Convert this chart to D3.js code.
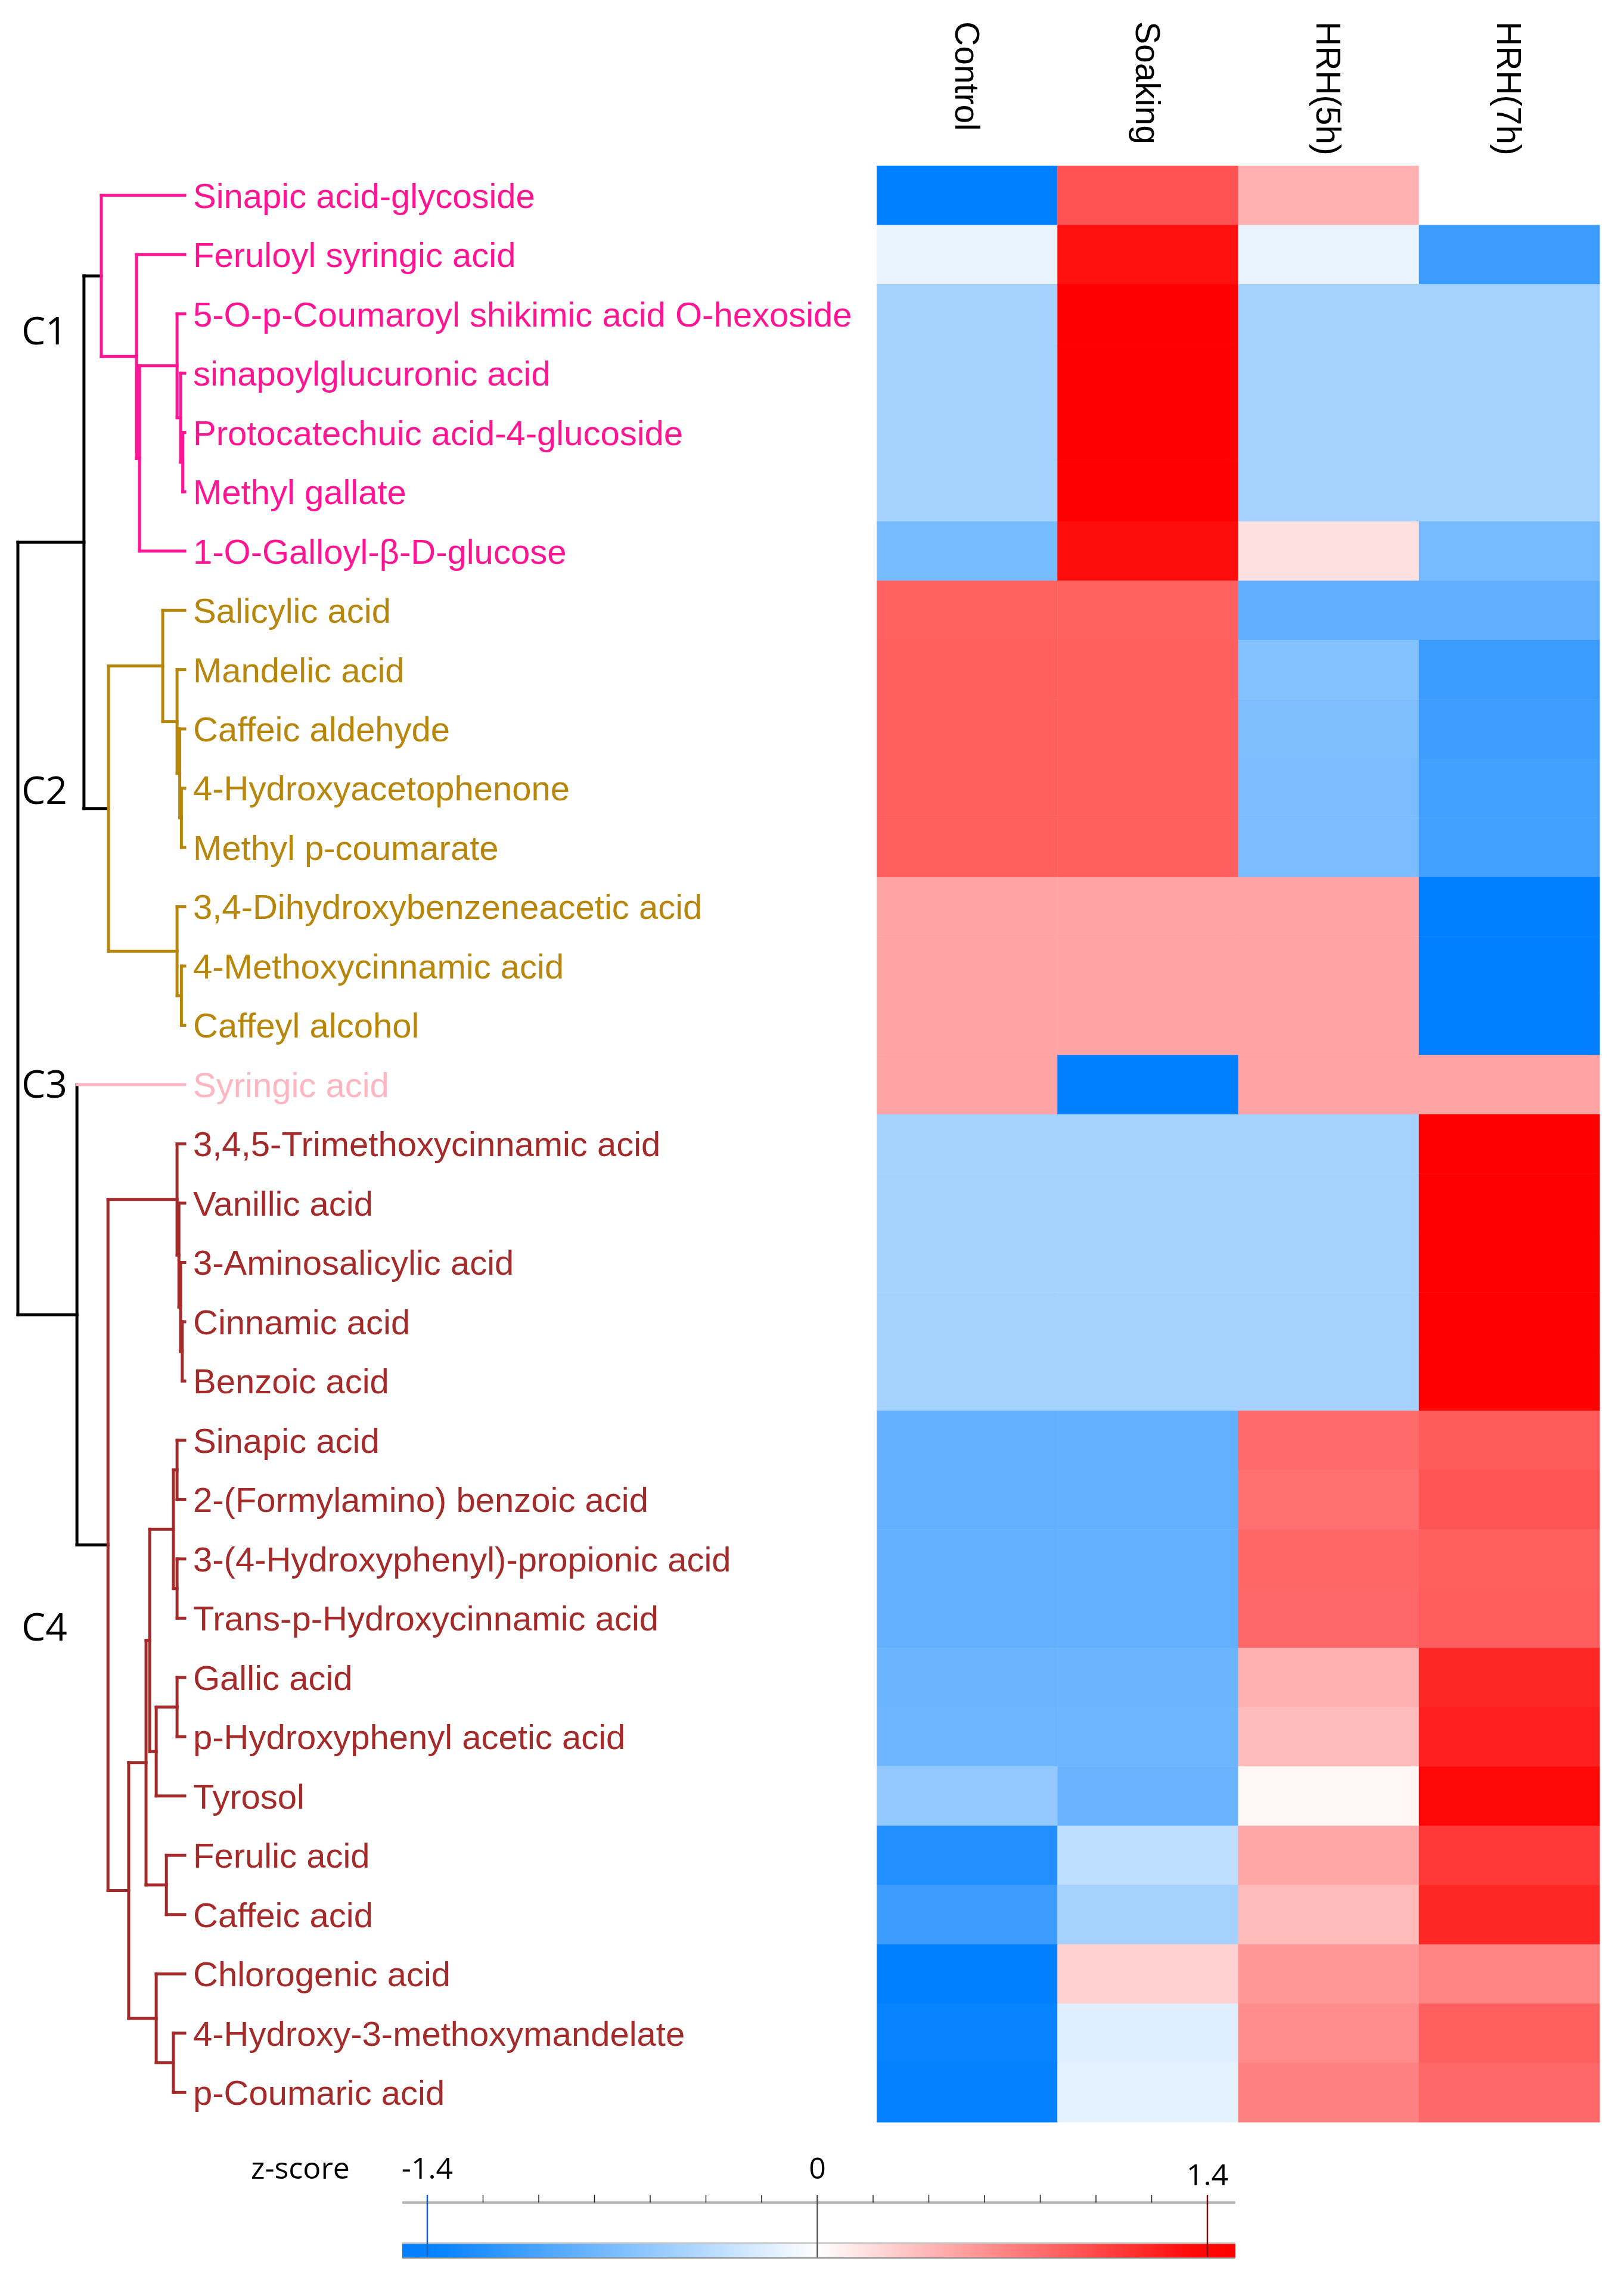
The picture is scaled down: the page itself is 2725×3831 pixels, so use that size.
<!DOCTYPE html>
<html>
<head>
<meta charset="utf-8">
<script src="https://cdn.jsdelivr.net/npm/d3@7"></script>
<style>
  html, body { margin: 0; padding: 0; background: #ffffff; }
  svg { display: block; }
</style>
</head>
<body>
<svg id="chart" width="2725" height="3831"></svg>
<script>
// ---------------- DATA ----------------
const columns = ["Control", "Soaking", "HRH(5h)", "HRH(7h)"];

const compounds = [
  "Sinapic acid-glycoside",
  "Feruloyl syringic acid",
  "5-O-p-Coumaroyl shikimic acid O-hexoside",
  "sinapoylglucuronic acid",
  "Protocatechuic acid-4-glucoside",
  "Methyl gallate",
  "1-O-Galloyl-β-D-glucose",
  "Salicylic acid",
  "Mandelic acid",
  "Caffeic aldehyde",
  "4-Hydroxyacetophenone",
  "Methyl p-coumarate",
  "3,4-Dihydroxybenzeneacetic acid",
  "4-Methoxycinnamic acid",
  "Caffeyl alcohol",
  "Syringic acid",
  "3,4,5-Trimethoxycinnamic acid",
  "Vanillic acid",
  "3-Aminosalicylic acid",
  "Cinnamic acid",
  "Benzoic acid",
  "Sinapic acid",
  "2-(Formylamino) benzoic acid",
  "3-(4-Hydroxyphenyl)-propionic acid",
  "Trans-p-Hydroxycinnamic acid",
  "Gallic acid",
  "p-Hydroxyphenyl acetic acid",
  "Tyrosol",
  "Ferulic acid",
  "Caffeic acid",
  "Chlorogenic acid",
  "4-Hydroxy-3-methoxymandelate",
  "p-Coumaric acid"
];

// z-scores: Control, Soaking, HRH(5h), HRH(7h)
const zscores = [
  [-1.40,  0.95,  0.43,  0.00],
  [-0.12,  1.31, -0.12, -1.07],
  [-0.50,  1.50, -0.50, -0.50],
  [-0.50,  1.50, -0.50, -0.50],
  [-0.50,  1.50, -0.50, -0.50],
  [-0.50,  1.50, -0.50, -0.50],
  [-0.75,  1.33,  0.17, -0.75],
  [ 0.87,  0.87, -0.87, -0.87],
  [ 0.88,  0.88, -0.68, -1.08],
  [ 0.88,  0.88, -0.70, -1.06],
  [ 0.88,  0.88, -0.72, -1.04],
  [ 0.88,  0.88, -0.72, -1.04],
  [ 0.50,  0.50,  0.50, -1.50],
  [ 0.50,  0.50,  0.50, -1.50],
  [ 0.50,  0.50,  0.50, -1.50],
  [ 0.50, -1.50,  0.50,  0.50],
  [-0.50, -0.50, -0.50,  1.50],
  [-0.50, -0.50, -0.50,  1.50],
  [-0.50, -0.50, -0.50,  1.50],
  [-0.50, -0.50, -0.50,  1.50],
  [-0.50, -0.50, -0.50,  1.50],
  [-0.86, -0.86,  0.82,  0.90],
  [-0.86, -0.86,  0.78,  0.94],
  [-0.86, -0.86,  0.84,  0.88],
  [-0.86, -0.86,  0.83,  0.89],
  [-0.81, -0.81,  0.43,  1.19],
  [-0.80, -0.80,  0.37,  1.23],
  [-0.59, -0.82,  0.05,  1.36],
  [-1.22, -0.36,  0.49,  1.09],
  [-1.07, -0.50,  0.38,  1.19],
  [-1.50,  0.25,  0.57,  0.68],
  [-1.36, -0.17,  0.63,  0.88],
  [-1.38, -0.15,  0.70,  0.83]
];

// clusters (consecutive rows)
const clusterNames = ["C1", "C2", "C3", "C4"];
const clusterSizes = [7, 8, 1, 17];

// dendrogram: [mergeHeight, childA, childB]; leaves are row indices
const treeC1 = [5.0, 0, [2.89, 1, [2.71, [0.46, 2, [0.25, 3, [0.12, 4, 5]]], 6]]];
const treeC2 = [4.57, [1.32, 7, [0.46, 8, [0.30, 9, [0.20, 10, 11]]]], [0.46, 12, [0.20, 13, 14]]];
const treeC4 = [4.6,
  [0.46, 16, [0.35, 17, [0.25, 18, [0.15, 19, 20]]]],
  [3.36,
    [2.32,
      [2.10,
        [0.68, [0.46, 21, 22], [0.46, 23, 24]],
        [1.71, [0.46, 25, 26], 27]],
      [1.10, 28, 29]],
    [1.71, 30, [0.68, 31, 32]]]];
const treeSpec = [10.0, [6.04, treeC1, treeC2], [6.46, 15, treeC4]];

// legend ticks
const legendTicks = [-1.4, -1.2, -1.0, -0.8, -0.6, -0.4, -0.2, 0, 0.2, 0.4, 0.6, 0.8, 1.0, 1.2, 1.4];
const legendLabels = [-1.4, 0, 1.4];
const legendLabelText = ["-1.4", "0", "1.4"];

// ---------------- STYLE / LAYOUT ----------------
const clusterColors = ["#ff1493", "#b8860b", "#ffb6c1", "#a52a2a"];
const clusterLabelRow = [3.02, 10.77, 15.72, 24.88]; // baseline, in row units
const heat = { x0: 1471, x1: 2684, y0: 278, y1: 3561 };
const treeX = { leaf: 310, root: 30 };
const labelX = 324;

const svg = d3.select("#chart");
svg.append("rect").attr("width", 2725).attr("height", 3831).attr("fill", "#fff");

const xCol = d3.scaleBand().domain(columns).range([heat.x0, heat.x1]);
const yRow = d3.scaleBand().domain(d3.range(compounds.length)).range([heat.y0, heat.y1]);
const yRowLin = d3.scaleLinear().domain([0, compounds.length]).range([heat.y0, heat.y1]);
const color = d3.scaleLinear().domain([-1.4, 0, 1.4])
  .range(["#007fff", "#ffffff", "#ff0000"]).clamp(true);

// row -> cluster index
const rowCluster = [];
clusterSizes.forEach((n, ci) => { for (let k = 0; k < n; k++) rowCluster.push(ci); });

// ---------------- HEATMAP ----------------
const cells = [];
zscores.forEach((row, r) => row.forEach((v, c) => cells.push({ r, c, v })));
svg.append("g").selectAll("rect").data(cells).join("rect")
  .attr("x", d => xCol(columns[d.c]))
  .attr("y", d => yRow(d.r))
  .attr("width", xCol.bandwidth() + 0.5)
  .attr("height", yRow.bandwidth() + 0.5)
  .attr("fill", d => color(d.v));

// column headers
svg.append("g").selectAll("text").data(columns).join("text")
  .attr("transform", d => `translate(${xCol(d) + xCol.bandwidth() / 2},36) rotate(90)`)
  .attr("dominant-baseline", "central")
  .attr("font-family", "'Liberation Sans', Arial, sans-serif")
  .attr("font-size", 57)
  .attr("fill", "#000")
  .text(d => d);

// row labels
svg.append("g").selectAll("text").data(compounds).join("text")
  .attr("x", labelX)
  .attr("y", (d, i) => yRow(i) + yRow.bandwidth() / 2)
  .attr("dy", "0.36em")
  .attr("font-family", "'Liberation Sans', Arial, sans-serif")
  .attr("font-size", 58)
  .attr("fill", (d, i) => clusterColors[rowCluster[i]])
  .text(d => d);

// ---------------- DENDROGRAM ----------------
function build(n) {
  if (typeof n === "number") return { leaf: n, h: 0 };
  return { h: n[0], children: n.slice(1).map(build) };
}
const root = d3.hierarchy(build(treeSpec));
const hx = d3.scaleLinear().domain([0, treeSpec[0]]).range([treeX.leaf, treeX.root]);

root.eachAfter(d => {
  if (!d.children) {
    d.py = yRow(d.data.leaf) + yRow.bandwidth() / 2;
    d.cset = new Set([rowCluster[d.data.leaf]]);
  } else {
    d.py = d3.mean(d.children, c => c.py);
    d.cset = new Set(d.children.flatMap(c => [...c.cset]));
  }
  d.px = hx(d.data.h);
  d.col = d.cset.size === 1 ? clusterColors[[...d.cset][0]] : "#000000";
});

const segs = [];
root.each(d => {
  if (!d.children) return;
  const ys = d.children.map(c => c.py);
  segs.push({ x1: d.px, x2: d.px, y1: d3.min(ys), y2: d3.max(ys), col: d.col });
  d.children.forEach(c => {
    segs.push({ x1: d.px, x2: c.px, y1: c.py, y2: c.py, col: c.children ? d.col : c.col });
  });
});
segs.sort((a, b) => (a.col === "#000000" ? 0 : 1) - (b.col === "#000000" ? 0 : 1));
svg.append("g").selectAll("line").data(segs).join("line")
  .attr("x1", d => d.x1).attr("x2", d => d.x2)
  .attr("y1", d => d.y1).attr("y2", d => d.y2)
  .attr("stroke", d => d.col)
  .attr("stroke-width", 5)
  .attr("stroke-linecap", "square");

// cluster labels
svg.append("g").selectAll("text").data(clusterNames).join("text")
  .attr("x", 36)
  .attr("y", (d, i) => yRowLin(clusterLabelRow[i]))
  .attr("font-family", "'Open Sans', 'DejaVu Sans', sans-serif")
  .attr("font-size", 64)
  .attr("fill", "#000")
  .text(d => d);

// ---------------- LEGEND ----------------
const lx = d3.scaleLinear().domain([-1.4, 1.4]).range([717, 2026]);
const leg = { axisY: 3696, tickLen: 13, barY0: 3765, barY1: 3788, lo: -1.49, hi: 1.5 };

const defs = svg.append("defs");
const grad = defs.append("linearGradient").attr("id", "zgrad")
  .attr("x1", "0%").attr("x2", "100%").attr("y1", "0%").attr("y2", "0%");
d3.range(0, 1.0001, 0.05).forEach(t => {
  const v = leg.lo + t * (leg.hi - leg.lo);
  grad.append("stop").attr("offset", (t * 100) + "%").attr("stop-color", color(v));
});

const lg = svg.append("g");
lg.append("text")
  .attr("x", 421).attr("y", 3656)
  .attr("font-family", "'Open Sans', 'DejaVu Sans', sans-serif")
  .attr("font-size", 50)
  .attr("fill", "#000")
  .text("z-score");

lg.selectAll("text.tl").data(legendLabels).join("text")
  .attr("class", "tl")
  .attr("x", d => lx(d))
  .attr("y", d => d === 1.4 ? 3667 : 3656)
  .attr("text-anchor", "middle")
  .attr("font-family", "'Open Sans', 'DejaVu Sans', sans-serif")
  .attr("font-size", 50)
  .attr("fill", "#000")
  .text((d, i) => legendLabelText[i]);

// colour bar
lg.append("rect")
  .attr("x", lx(leg.lo)).attr("y", leg.barY0)
  .attr("width", lx(leg.hi) - lx(leg.lo)).attr("height", leg.barY1 - leg.barY0)
  .attr("fill", "url(#zgrad)");
lg.append("line")
  .attr("x1", lx(leg.lo)).attr("x2", lx(leg.hi))
  .attr("y1", leg.barY0 - 1).attr("y2", leg.barY0 - 1)
  .attr("stroke", "#c8c8c8").attr("stroke-width", 3);
lg.append("line")
  .attr("x1", lx(leg.lo)).attr("x2", lx(leg.hi))
  .attr("y1", leg.barY1 + 1).attr("y2", leg.barY1 + 1)
  .attr("stroke", "#8a8a8a").attr("stroke-width", 2);

// axis line
lg.append("line")
  .attr("x1", lx(leg.lo)).attr("x2", lx(leg.hi))
  .attr("y1", leg.axisY).attr("y2", leg.axisY)
  .attr("stroke", "#b4b4b4").attr("stroke-width", 4);
// minor ticks
lg.selectAll("line.tk").data(legendTicks).join("line")
  .attr("class", "tk")
  .attr("x1", d => lx(d)).attr("x2", d => lx(d))
  .attr("y1", leg.axisY - leg.tickLen).attr("y2", leg.axisY)
  .attr("stroke", "#222").attr("stroke-width", 1.5);
// marker lines
const markerCol = v => v < 0 ? "#1565c0" : (v > 0 ? "#7a1010" : "#555555");
lg.selectAll("line.mk").data(legendLabels).join("line")
  .attr("class", "mk")
  .attr("x1", d => lx(d)).attr("x2", d => lx(d))
  .attr("y1", leg.axisY - leg.tickLen).attr("y2", leg.barY1)
  .attr("stroke", d => markerCol(d)).attr("stroke-width", 2.5);
</script>
</body>
</html>
